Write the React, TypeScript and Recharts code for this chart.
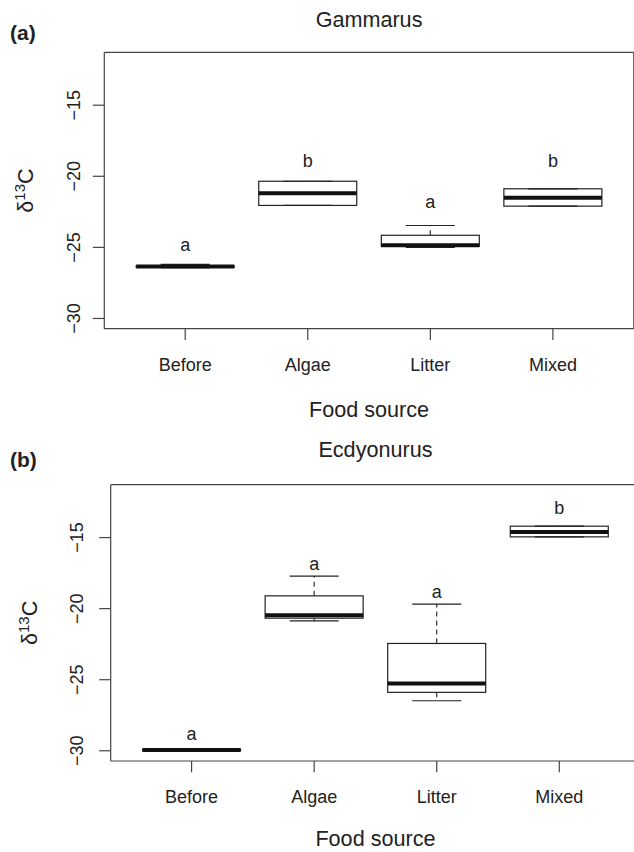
import React from "react";
import { ComposedChart, Bar, Scatter, XAxis, YAxis, Label } from "recharts";

// food sources on the x axis
const categories = ["Before", "Algae", "Litter", "Mixed"];

// Gammarus boxplot stats (delta 13C)
const gammarusMin = [-26.42, -22.05, -25.0, -22.1];
const gammarusQ1 = [-26.4, -22.05, -24.92, -22.1];
const gammarusMed = [-26.35, -21.2, -24.85, -21.51];
const gammarusQ3 = [-26.3, -20.35, -24.15, -20.88];
const gammarusMax = [-26.2, -20.35, -23.46, -20.88];
const gammarusLetters = ["a", "b", "a", "b"];
const gammarusLetterY = [-25.29, -19.33, -22.24, -19.33];

// Ecdyonurus boxplot stats
const ecdyMin = [-30.02, -20.86, -26.48, -14.95];
const ecdyQ1 = [-30.0, -20.67, -25.89, -14.95];
const ecdyMed = [-29.95, -20.46, -25.26, -14.6];
const ecdyQ3 = [-29.9, -19.1, -22.45, -14.2];
const ecdyMax = [-29.85, -17.71, -19.68, -14.2];
const ecdyLetters = ["a", "a", "a", "b"];
const ecdyLetterY = [-29.25, -17.29, -19.28, -13.31];

const yTicks = [-30, -25, -20, -15];
const yLimits = [-30, -12];

const FONT = '"Liberation Sans", Arial, Helvetica, sans-serif';
const INK = "#222";
const FRAME = "#444";
const CHART_W = 660;
const CHART_H = 426;
const PLOT_W = 529.5;

// R extends the axis range by 4% on each side
const ySpan = yLimits[1] - yLimits[0];
const yDomain = [yLimits[0] - 0.04 * ySpan, yLimits[1] + 0.04 * ySpan];
const xPad = (PLOT_W / 4.32) * 0.16;

function buildRows(
  min: number[],
  q1: number[],
  med: number[],
  q3: number[],
  max: number[],
  letters: string[],
  letterY: number[]
) {
  return categories.map((name, i) => ({
    name,
    min: min[i],
    q1: q1[i],
    med: med[i],
    q3: q3[i],
    max: max[i],
    letter: letters[i],
    letterY: letterY[i],
  }));
}

const gammarusRows = buildRows(
  gammarusMin,
  gammarusQ1,
  gammarusMed,
  gammarusQ3,
  gammarusMax,
  gammarusLetters,
  gammarusLetterY
);
const ecdyRows = buildRows(ecdyMin, ecdyQ1, ecdyMed, ecdyQ3, ecdyMax, ecdyLetters, ecdyLetterY);

const minus = (v: number) => (v < 0 ? "\u2212" + Math.abs(v) : String(v));

function BoxShape(props: any) {
  const { x, y, width, height, payload } = props;
  const { min, q1, med, q3, max } = payload;
  const span = max - min;
  const py = (v: number) => (span > 0 ? y + ((max - v) / span) * height : y);
  const cx = x + width / 2;
  const cap = width / 4;
  return (
    <g>
      <line x1={cx} x2={cx} y1={py(q3)} y2={py(max)} stroke={INK} strokeWidth={1.1} strokeDasharray="5 4" />
      <line x1={cx} x2={cx} y1={py(q1)} y2={py(min)} stroke={INK} strokeWidth={1.1} strokeDasharray="5 4" />
      <rect
        x={x}
        y={py(q3)}
        width={width}
        height={Math.max(py(q1) - py(q3), 0.5)}
        fill="#fff"
        stroke={INK}
        strokeWidth={1.2}
      />
      <line x1={cx - cap} x2={cx + cap} y1={py(max)} y2={py(max)} stroke={INK} strokeWidth={1.2} />
      <line x1={cx - cap} x2={cx + cap} y1={py(min)} y2={py(min)} stroke={INK} strokeWidth={1.2} />
      <line x1={x} x2={x + width} y1={py(med)} y2={py(med)} stroke="#111" strokeWidth={4} />
    </g>
  );
}

function LetterShape(props: any) {
  const { cx, cy, payload } = props;
  return (
    <text x={cx} y={cy} textAnchor="middle" fontFamily={FONT} fontSize={18} fill={INK}>
      {payload.letter}
    </text>
  );
}

type PanelProps = {
  tag: string;
  title: string;
  rows: any[];
  plotLeft: number;
  plotTop: number;
  plotBottom: number;
  titleBase: number;
  tagBase: number;
  yTitleX: number;
  yTickShift: number;
  xTitleBase: number;
};

function Panel(p: PanelProps) {
  const centerX = p.plotLeft + PLOT_W / 2;
  const centerY = (p.plotTop + p.plotBottom) / 2;
  const right = CHART_W - p.plotLeft - PLOT_W;

  const XTick = (t: any) => (
    <text x={t.x} y={t.y + 31} textAnchor="middle" fontFamily={FONT} fontSize={18} fill={INK}>
      {t.payload.value}
    </text>
  );
  const YTick = (t: any) => {
    const bx = t.x - p.yTickShift;
    return (
      <text
        x={bx}
        y={t.y}
        transform={`rotate(-90 ${bx} ${t.y})`}
        textAnchor="middle"
        fontFamily={FONT}
        fontSize={18}
        fill={INK}
      >
        {minus(t.payload.value)}
      </text>
    );
  };

  return (
    <ComposedChart
      width={CHART_W}
      height={CHART_H}
      data={p.rows}
      margin={{ top: p.plotTop - 1, right: right - 1, bottom: 0, left: 0 }}
      barCategoryGap="10%"
    >
      <XAxis
        dataKey="name"
        type="category"
        height={CHART_H - p.plotBottom}
        padding={{ left: xPad, right: xPad }}
        interval={0}
        tickSize={11.3}
        tickMargin={0}
        tick={XTick}
        axisLine={{ stroke: FRAME, strokeWidth: 1.2 }}
        tickLine={{ stroke: FRAME, strokeWidth: 1.2 }}
      >
        <Label
          content={() => (
            <g>
              <text x={centerX} y={p.xTitleBase} textAnchor="middle" fontFamily={FONT} fontSize={21.6} fill={INK}>
                Food source
              </text>
              <text x={centerX} y={p.titleBase} textAnchor="middle" fontFamily={FONT} fontSize={21.6} fill={INK}>
                {p.title}
              </text>
              <text x={10} y={p.tagBase} fontFamily={FONT} fontSize={21} fontWeight="bold" fill={INK}>
                {p.tag}
              </text>
            </g>
          )}
        />
      </XAxis>
      <XAxis
        xAxisId="top"
        dataKey="name"
        type="category"
        orientation="top"
        height={1}
        padding={{ left: xPad, right: xPad }}
        tick={false}
        tickLine={false}
        axisLine={{ stroke: FRAME, strokeWidth: 1.2 }}
      />
      <YAxis
        type="number"
        domain={yDomain}
        ticks={yTicks}
        interval={0}
        allowDataOverflow
        width={p.plotLeft}
        tickSize={11.5}
        tickMargin={0}
        tick={YTick}
        axisLine={{ stroke: FRAME, strokeWidth: 1.2 }}
        tickLine={{ stroke: FRAME, strokeWidth: 1.2 }}
      >
        <Label
          content={() => (
            <text
              x={p.yTitleX}
              y={centerY}
              transform={`rotate(-90 ${p.yTitleX} ${centerY})`}
              textAnchor="middle"
              fontFamily={FONT}
              fontSize={21.6}
              fill={INK}
            >
              δ
              <tspan dy={-8} fontSize={15}>
                13
              </tspan>
              <tspan dy={8}>C</tspan>
            </text>
          )}
        />
      </YAxis>
      <YAxis
        yAxisId="right"
        orientation="right"
        type="number"
        domain={yDomain}
        allowDataOverflow
        width={1}
        tick={false}
        tickLine={false}
        axisLine={{ stroke: FRAME, strokeWidth: 1.2 }}
      />
      <Bar dataKey={(d: any) => [d.min, d.max]} shape={BoxShape} isAnimationActive={false} />
      <Scatter
        dataKey="letterY"
        xAxisId="top"
        yAxisId="right"
        shape={LetterShape}
        isAnimationActive={false}
      />
    </ComposedChart>
  );
}

export default function App() {
  return (
    <div
      style={{
        position: "absolute",
        left: 0,
        top: 0,
        width: 634,
        height: 852,
        overflow: "hidden",
        background: "#fff",
      }}
    >
      <Panel
        tag="(a)"
        title="Gammarus"
        rows={gammarusRows}
        plotLeft={104.3}
        plotTop={52.3}
        plotBottom={328.7}
        titleBase={26.7}
        tagBase={40}
        yTitleX={32.5}
        yTickShift={12.8}
        xTitleBase={416.7}
      />
      <Panel
        tag="(b)"
        title="Ecdyonurus"
        rows={ecdyRows}
        plotLeft={110.7}
        plotTop={58.7}
        plotBottom={335}
        titleBase={30.7}
        tagBase={41.3}
        yTitleX={36.7}
        yTickShift={15.9}
        xTitleBase={420}
      />
    </div>
  );
}
